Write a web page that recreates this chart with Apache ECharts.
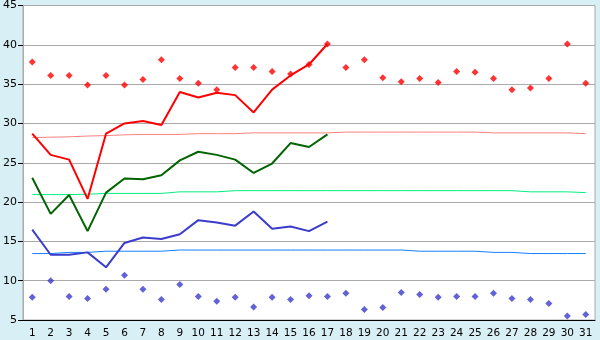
<!DOCTYPE html>
<html>
<head>
<meta charset="utf-8">
<script src="https://cdn.jsdelivr.net/npm/echarts@6/dist/echarts.min.js"></script>
<style>
html,body{margin:0;padding:0;background:#d9eff6;}
#c{width:600px;height:340px;}
</style>
</head>
<body>
<div id="c"></div>
<script>
var days = ['1','2','3','4','5','6','7','8','9','10','11','12','13','14','15','16','17','18','19','20','21','22','23','24','25','26','27','28','29','30','31'];
var maxPoints = [37.8,36.1,36.1,34.9,36.1,34.9,35.6,38.1,35.7,35.1,34.3,37.1,37.1,36.6,36.3,37.5,40.1,37.1,38.1,35.8,35.3,35.7,35.2,36.6,36.5,35.7,34.3,34.5,35.7,40.1,35.1];
var minPoints = [7.9,10.0,8.0,7.75,8.9,10.7,8.9,7.6,9.5,8.0,7.4,7.9,6.65,7.9,7.6,8.1,8.0,8.4,6.35,6.6,8.5,8.25,7.9,8.0,8.0,8.4,7.75,7.6,7.1,5.5,5.7];
var maxLine = [28.7,26.0,25.4,20.4,28.7,30.0,30.3,29.8,34.0,33.3,33.9,33.6,31.4,34.3,36.1,37.5,40.1];
var meanLine = [23.1,18.5,20.9,16.3,21.2,23.0,22.9,23.4,25.3,26.4,26.0,25.4,23.7,24.9,27.5,27.0,28.6];
var minLine = [16.5,13.3,13.3,13.6,11.7,14.8,15.5,15.3,15.9,17.7,17.4,17.0,18.8,16.6,16.9,16.3,17.5];
var normMax = [28.2,28.25,28.3,28.4,28.45,28.55,28.6,28.6,28.6,28.7,28.7,28.7,28.8,28.8,28.8,28.8,28.8,28.9,28.9,28.9,28.9,28.9,28.9,28.9,28.9,28.8,28.8,28.8,28.8,28.8,28.7];
var normMean = [20.95,20.95,20.95,21.0,21.1,21.1,21.1,21.1,21.3,21.3,21.3,21.45,21.45,21.45,21.45,21.45,21.45,21.45,21.45,21.45,21.45,21.45,21.45,21.45,21.45,21.45,21.45,21.3,21.3,21.3,21.2];
var normMin = [13.45,13.45,13.6,13.6,13.75,13.75,13.75,13.75,13.9,13.9,13.9,13.9,13.9,13.9,13.9,13.9,13.9,13.9,13.9,13.9,13.9,13.75,13.75,13.75,13.75,13.6,13.6,13.45,13.45,13.45,13.45];

var chart = echarts.init(document.getElementById('c'));
function lineS(data, color, width, z) {
  return {type:'line', data:data, symbol:'none', z:z, animation:false,
    lineStyle:{color:color, width:width}, itemStyle:{color:color}};
}
function scatS(data, color) {
  return {type:'scatter', data:data, symbol:'diamond', symbolSize:7, z:5, animation:false,
    itemStyle:{color:color}};
}
chart.setOption({
  backgroundColor:'#d9eff6',
  animation:false,
  textStyle:{fontFamily:'DejaVu Sans'},
  grid:{left:21, right:5, top:5, bottom:20, show:true, backgroundColor:'#ffffff', borderColor:'#aaaaaa', borderWidth:1},
  xAxis:{type:'category', data:days, boundaryGap:true,
    axisLine:{lineStyle:{color:'#000', width:1}},
    axisTick:{alignWithLabel:true, length:5, lineStyle:{color:'#000'}},
    axisLabel:{color:'#000', fontSize:10.5, margin:8, interval:0}},
  yAxis:{type:'value', min:5, max:45, interval:5,
    axisLine:{show:true, lineStyle:{color:'#aaaaaa'}},
    axisTick:{show:true, length:5, lineStyle:{color:'#000'}},
    splitLine:{lineStyle:{color:'#aaaaaa', width:1}},
    axisLabel:{color:'#000', fontSize:11, margin:6}},
  series:[
    lineS(normMax, '#ff8080', 1, 2),
    lineS(normMean, '#00f080', 1, 2),
    lineS(normMin, '#1080ff', 1, 2),
    lineS(maxLine, '#ff0000', 2, 3),
    lineS(meanLine, '#006400', 2, 3),
    lineS(minLine, '#3b3bcc', 2, 3),
    scatS(maxPoints, '#ff0000'),
    scatS(minPoints, '#3b3bcc')
  ]
});
</script>
</body>
</html>
